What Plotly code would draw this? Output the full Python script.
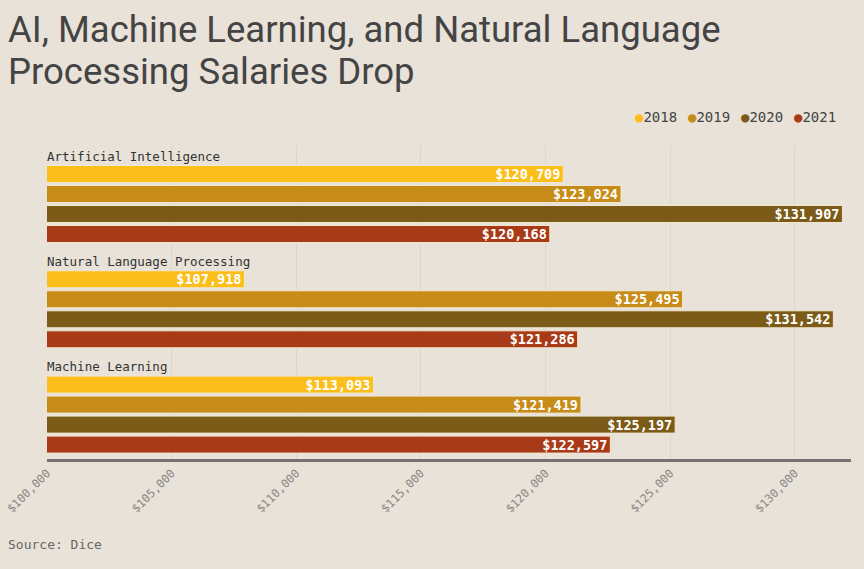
import plotly.graph_objects as go

categories = ["Artificial Intelligence", "Natural Language Processing", "Machine Learning"]
years = ["2018", "2019", "2020", "2021"]
salaries = {
    "2018": [120709, 107918, 113093],
    "2019": [123024, 125495, 121419],
    "2020": [131907, 131542, 125197],
    "2021": [120168, 121286, 122597],
}
colors = {"2018": "#FCBE1B", "2019": "#C78B17", "2020": "#7C5A18", "2021": "#A93A17"}
tick_vals = [100000, 105000, 110000, 115000, 120000, 125000, 130000]
title_lines = ["AI, Machine Learning, and Natural Language", "Processing Salaries Drop"]
source_text = "Source: Dice"

BG = "#E8E2D8"
MONO = "DejaVu Sans Mono"
GROUP_STEP = 5.265
FIRST = 1.45

# plot-area geometry in pixels (for placing paper-referenced text)
L, R, T, B = 47, 13, 145, 110
W, H = 864, 569
PW, PH = W - L - R, H - T - B


def px_x(x):
    return (x - L) / PW


def px_y(y):
    return (H - B - y) / PH


fig = go.Figure()
for k, yr in enumerate(years):
    ys = [FIRST + g * GROUP_STEP + k for g in range(len(categories))]
    fig.add_trace(go.Bar(
        x=salaries[yr], y=ys, orientation="h", base=0,
        width=0.85, marker=dict(color=colors[yr], line=dict(color="#F2E8D2", width=1)),
        text=[f"${v:,}" for v in salaries[yr]], textposition="inside",
        insidetextanchor="end", textangle=0, constraintext="none",
        textfont=dict(family=MONO, size=13.5, color="white", weight="bold"),
        showlegend=False, hoverinfo="skip", name=yr,
    ))

for g, cat in enumerate(categories):
    fig.add_annotation(x=100000, y=FIRST + g * GROUP_STEP - 0.9, text=cat,
                       xref="x", yref="y", xanchor="left", yanchor="middle",
                       xshift=-2,
                       showarrow=False, font=dict(family=MONO, size=12.5, color="#333333"))

# title
for i, line in enumerate(title_lines):
    fig.add_annotation(text=line, xref="paper", yref="paper",
                       x=px_x(6), y=px_y(30 + 42 * i), xanchor="left", yanchor="middle",
                       showarrow=False, font=dict(family="Roboto", size=36.5, color="#444444"))

# legend (dot + year)
for k, yr in enumerate(years):
    fig.add_annotation(text=f"<span style='color:{colors[yr]}'>●</span>{yr}",
                       xref="paper", yref="paper",
                       x=px_x(633 + 53 * k), y=px_y(117), xanchor="left", yanchor="middle",
                       showarrow=False, font=dict(family=MONO, size=14, color="#444444"))

fig.add_annotation(text=source_text, xref="paper", yref="paper",
                   x=px_x(6), y=px_y(544), xanchor="left", yanchor="middle",
                   showarrow=False, font=dict(family=MONO, size=13, color="#666666"))

fig.update_layout(
    width=W, height=H,
    paper_bgcolor=BG, plot_bgcolor=BG,
    margin=dict(l=L, r=R, t=T, b=B, autoexpand=False),
    barmode="overlay",
    showlegend=False,
    xaxis=dict(range=[100000, 132250], tickvals=tick_vals, tickformat="$,",
               tickangle=-45, tickfont=dict(family=MONO, size=11.5, color="#8A8785"),
               showgrid=True, gridcolor="#DDD6CA", gridwidth=1, automargin=False,
               showline=True, linecolor="#777070", linewidth=3, zeroline=False,
               ticks="", ticklen=0),
    yaxis=dict(range=[15.7, 0], visible=False, showgrid=False, zeroline=False,
               automargin=False),
)

fig.write_html("out.html", config={"displayModeBar": False},
               post_script="document.body.style.margin='0';document.body.style.overflow='hidden';")
